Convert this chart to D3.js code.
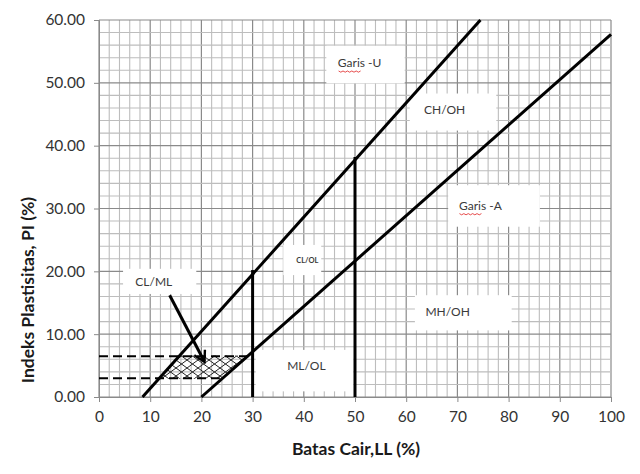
<!DOCTYPE html>
<html lang="en">
<head>
    <meta charset="UTF-8">
    <title>Plasticity Chart</title>
    <script src="https://d3js.org/d3.v7.min.js"></script>
    <style>
        body { margin: 0; background: #fff; }
        text { font-family: Lato, "Open Sans", sans-serif; }
    </style>
</head>
<body>
    <svg id="chart"></svg>
    <script>
        // values (LL %, PI %)
        const xTicks = [0, 10, 20, 30, 40, 50, 60, 70, 80, 90, 100];
        const yTicks = [0, 10, 20, 30, 40, 50, 60];
        const uLine = [[8.5, 0], [74.5, 60]];
        const aLine = [[20, 0], [100, 57.7]];
        const llSplit30 = [[30, 0], [30, 20.2]];
        const llSplit50 = [[50, 0], [50, 38.2]];
        const dashTop = [[0, 6.5], [29.5, 6.5]];
        const dashBottom = [[0, 3], [23.6, 3]];
        const hatchZone = [[15.5, 6.6], [29.6, 6.6], [24, 2.9], [11.8, 2.9]];
        const arrowPath = [[13.8, 16.2], [20.6, 5.6]];

        // zone labels: text, text anchor point, box [x0, x1, y0, y1]
        const labels = [
            { text: "Garis -U", at: [50.9, 53.0], box: [44.4, 59.7, 49.9, 55.9], squiggle: true },
            { text: "CH/OH", at: [67.5, 45.5], box: [60.7, 77.6, 42.4, 48.3] },
            { text: "Garis -A", at: [74.5, 30.3], box: [68.2, 86.1, 27.1, 33.7], squiggle: true },
            { text: "MH/OH", at: [68.1, 13.4], box: [61.7, 80.6, 10.6, 16.2] },
            { text: "CL/OL", at: [40.7, 21.7], box: [36.0, 43.4, 19.4, 24.2], small: true },
            { text: "CL/ML", at: [10.7, 18.1], box: [4.7, 19.0, 16.4, 20.4] },
            { text: "ML/OL", at: [40.5, 4.8], box: [30.6, 49.7, 0.9, 7.5] }
        ];

        const width = 640, height = 474;
        const margin = { top: 20, right: 29, bottom: 77, left: 99 };
        const svg = d3.select("#chart").attr("width", width).attr("height", height);

        const x = d3.scaleLinear().domain([0, 100]).range([margin.left, width - margin.right]);
        const y = d3.scaleLinear().domain([0, 60]).range([height - margin.bottom, margin.top]);

        // graph paper grid
        const grid = svg.append("g");
        grid.selectAll(".vx").data(d3.range(0, 101, 2)).join("line")
            .attr("x1", d => x(d)).attr("x2", d => x(d))
            .attr("y1", y(0)).attr("y2", y(60))
            .attr("stroke", d => d % 10 === 0 ? "#8a8a8a" : "#bdbdbd")
            .attr("stroke-width", d => d % 10 === 0 ? 1.2 : 1.1);
        grid.selectAll(".hy").data(d3.range(0, 61, 2)).join("line")
            .attr("y1", d => y(d)).attr("y2", d => y(d))
            .attr("x1", x(0)).attr("x2", x(100))
            .attr("stroke", d => d % 10 === 0 ? "#8a8a8a" : "#bdbdbd")
            .attr("stroke-width", d => d % 10 === 0 ? 1.2 : 1.1);

        // axes
        const xAxis = svg.append("g").attr("transform", `translate(0,${y(0)})`)
            .call(d3.axisBottom(x).tickValues(xTicks).tickSize(5).tickPadding(9));
        const yAxis = svg.append("g").attr("transform", `translate(${x(0)},0)`)
            .call(d3.axisLeft(y).tickValues(yTicks).tickFormat(d3.format(".2f")).tickSize(5).tickPadding(9));
        [xAxis, yAxis].forEach(a => {
            a.select(".domain").attr("stroke", "#8a8a8a");
            a.selectAll(".tick line").attr("stroke", "#8a8a8a");
            a.selectAll(".tick text").attr("fill", "#333").style("font-size", "15.5px");
        });

        svg.append("text").attr("x", 356).attr("y", 455).attr("text-anchor", "middle")
            .style("font-size", "17.5px").style("font-weight", "bold").attr("fill", "#1a1a1a")
            .text("Batas Cair,LL (%)");
        svg.append("text").attr("transform", "translate(34,290) rotate(-90)").attr("text-anchor", "middle")
            .style("font-size", "17.5px").style("font-weight", "bold").attr("fill", "#1a1a1a")
            .text("Indeks Plastisitas, PI (%)");

        // white label boxes
        svg.append("g").selectAll("rect").data(labels).join("rect")
            .attr("x", d => x(d.box[0])).attr("width", d => x(d.box[1]) - x(d.box[0]))
            .attr("y", d => y(d.box[3])).attr("height", d => y(d.box[2]) - y(d.box[3]))
            .attr("fill", "#fff");

        // cross hatch
        const defs = svg.append("defs");
        const pat = defs.append("pattern").attr("id", "hatch")
            .attr("patternUnits", "userSpaceOnUse").attr("width", 11).attr("height", 8);
        pat.append("path").attr("d", "M0,0L11,8M11,0L0,8")
            .attr("stroke", "#222").attr("stroke-width", 1).attr("fill", "none");

        const line = d3.line().x(d => x(d[0])).y(d => y(d[1]));
        svg.append("path").datum(hatchZone).attr("d", d => line(d) + "Z")
            .attr("fill", "url(#hatch)").attr("stroke", "none");

        [dashTop, dashBottom].forEach(d => {
            svg.append("path").datum(d).attr("d", line)
                .attr("stroke", "#000").attr("stroke-width", 2).attr("stroke-dasharray", "9,5").attr("fill", "none");
        });

        [uLine, aLine, llSplit30, llSplit50].forEach(d => {
            svg.append("path").datum(d).attr("d", line)
                .attr("stroke", "#000").attr("stroke-width", 3).attr("fill", "none");
        });

        // labels
        svg.append("g").selectAll("text").data(labels).join("text")
            .attr("x", d => x(d.at[0])).attr("y", d => y(d.at[1]))
            .attr("text-anchor", "middle").attr("dominant-baseline", "middle")
            .attr("fill", "#3a3a3a")
            .style("font-size", d => d.small ? "7.5px" : "12px")
            .style("font-weight", d => d.small ? "bold" : "normal")
            .text(d => d.text);

        // red spell-check squiggle under "Garis"
        labels.filter(d => d.squiggle).forEach(d => {
            const x0 = x(d.at[0]) - 21, yy = y(d.at[1]) + 7;
            const pts = d3.range(0, 11).map(i => [x0 + i * 2.2, yy + (i % 2 ? 1.2 : 0)]);
            svg.append("path").attr("d", d3.line()(pts))
                .attr("stroke", "#e02020").attr("stroke-width", 0.8).attr("fill", "none");
        });

        // arrow
        defs.append("marker").attr("id", "head").attr("viewBox", "0 0 10 10")
            .attr("refX", 8).attr("refY", 5).attr("markerWidth", 5).attr("markerHeight", 5)
            .attr("orient", "auto")
            .append("path").attr("d", "M1,1L8,5L1,9").attr("fill", "none").attr("stroke", "#000").attr("stroke-width", 1.6);
        svg.append("path").datum(arrowPath).attr("d", line)
            .attr("stroke", "#000").attr("stroke-width", 3).attr("fill", "none")
            .attr("marker-end", "url(#head)");
    </script>
</body>
</html>
